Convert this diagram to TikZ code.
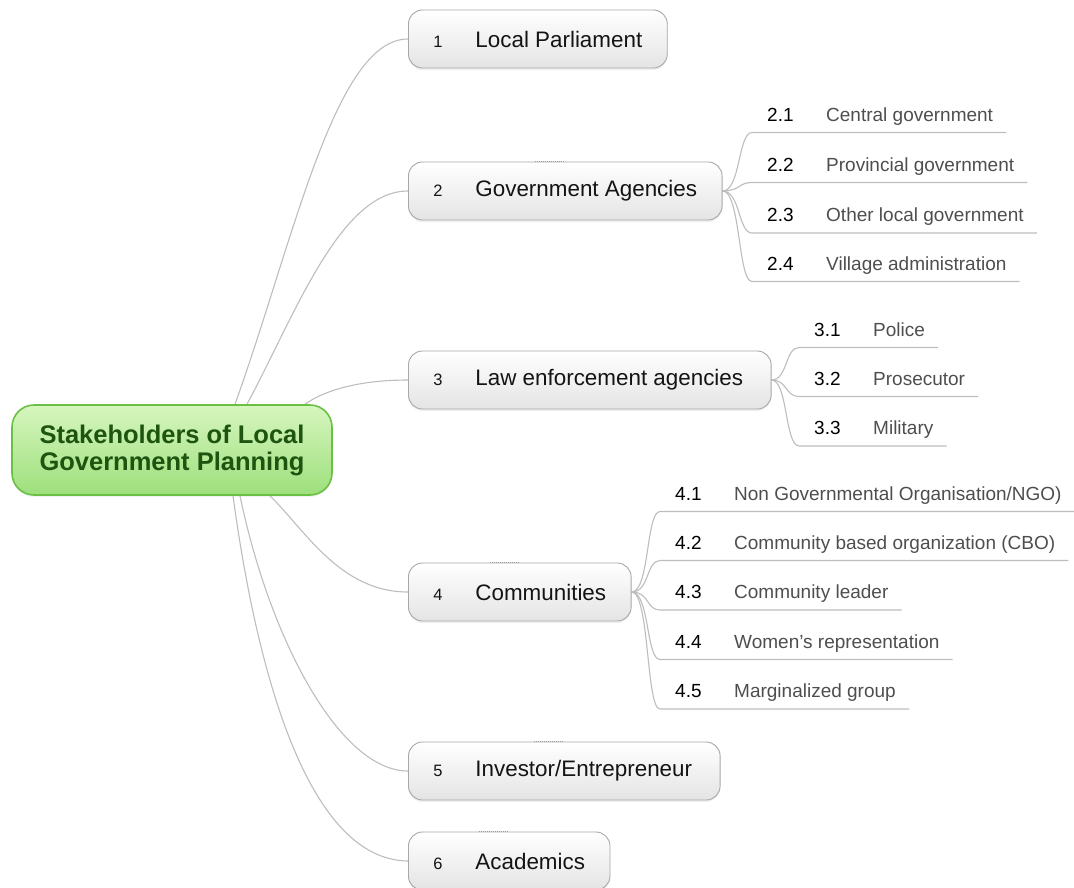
\documentclass[tikz,border=0pt]{standalone}
\usepackage{fontspec}
\setmainfont{Liberation Sans}
\usetikzlibrary{shadows,backgrounds}

\definecolor{linkgray}{HTML}{BDBDBD}
\definecolor{boxborder}{HTML}{A8A8A8}
\definecolor{boxbottom}{HTML}{E4E4E4}
\definecolor{subgray}{HTML}{4E4E4E}
\definecolor{rootborder}{HTML}{6ABF45}
\definecolor{roottop}{HTML}{D6F6BE}
\definecolor{rootbottom}{HTML}{9EDF7C}
\definecolor{roottext}{HTML}{1C5410}
\definecolor{handle}{HTML}{9C9C9C}

% number column + label inside a main topic box
\newcommand\topiclabel[2]{\makebox[42pt][l]{\fontsize{16.5}{18}\selectfont #1}#2}
% number column + label of an underlined sub topic
\newcommand\subentry[2]{\hspace*{15pt}\makebox[59pt][l]{\color{black}#1}#2\hspace*{13pt}}

\begin{document}
\begin{tikzpicture}[x=1pt,y=1pt,
  link/.style={draw=linkgray, line width=1.1pt},
  topic/.style={draw=boxborder, line width=0.9pt, rounded corners=14pt,
    top color=white, bottom color=boxbottom, minimum height=58pt,
    inner xsep=25pt, inner ysep=0pt, anchor=west,
    font=\fontsize{22.4}{26}\selectfont, text=black!92,
    drop shadow={opacity=0.12, shadow xshift=0pt, shadow yshift=-2pt}},
  subtopic/.style={inner sep=0pt, anchor=south west, text height=15pt,
    text depth=11pt, font=\fontsize{19}{22}\selectfont, text=subgray},
  rootstyle/.style={draw=rootborder, line width=1.6pt, rounded corners=22pt,
    top color=roottop, bottom color=rootbottom, minimum width=320pt,
    minimum height=90pt, align=center, text=roottext,
    font=\bfseries\fontsize{25.5}{27}\selectfont,
    drop shadow={opacity=0.10, shadow xshift=0pt, shadow yshift=-2pt}},
  handlemark/.style={draw=handle, line width=1pt, densely dotted}
]
\useasboundingbox (0,0) rectangle (1074,-887);

% central topic
\node[rootstyle] (root) at (172,-450) {Stakeholders of Local\\Government Planning};

% main topics
\node[topic] (b1) at (408,-39)  {\topiclabel{1}{Local Parliament}};
\node[topic] (b2) at (408,-191) {\topiclabel{2}{Government Agencies}};
\node[topic] (b3) at (408,-380) {\topiclabel{3}{Law enforcement agencies}\hspace*{3pt}};
\node[topic] (b4) at (408,-592) {\topiclabel{4}{Communities}};
\node[topic] (b5) at (408,-771) {\topiclabel{5}{Investor/Entrepreneur}\hspace*{3pt}};
\node[topic] (b6) at (408,-861) {\topiclabel{6}{Academics}};

% sub topics of 2
\node[subtopic] (s21) at (752,-132.5) {\subentry{2.1}{Central government}};
\node[subtopic] (s22) at (752,-182.5) {\subentry{2.2}{Provincial government}};
\node[subtopic] (s23) at (752,-233)   {\subentry{2.3}{Other local government}};
\node[subtopic] (s24) at (752,-281.5) {\subentry{2.4}{Village administration}};

% sub topics of 3
\node[subtopic] (s31) at (799,-347.5) {\subentry{3.1}{Police}};
\node[subtopic] (s32) at (799,-396.5) {\subentry{3.2}{Prosecutor}};
\node[subtopic] (s33) at (799,-446)   {\subentry{3.3}{Military}};

% sub topics of 4
\node[subtopic] (s41) at (660,-511.5) {\subentry{4.1}{Non Governmental Organisation/NGO)}};
\node[subtopic] (s42) at (660,-560.5) {\subentry{4.2}{Community based organization (CBO)}};
\node[subtopic] (s43) at (660,-610)   {\subentry{4.3}{Community leader}};
\node[subtopic] (s44) at (660,-659.5) {\subentry{4.4}{Women's representation}};
\node[subtopic] (s45) at (660,-709)   {\subentry{4.5}{Marginalized group}};

% collapse handles on the topic boxes
\foreach \b in {b2,b4,b5,b6}
  \draw[handlemark] ([xshift=-30pt]\b.north) -- (\b.north);

\begin{scope}[on background layer]
  % branches from the central topic
  \draw[link] ([xshift=63pt]root.north) .. controls (294,-240) and (335,-39) .. (b1.west);
  \draw[link] ([xshift=75pt]root.north) .. controls (295,-315) and (340,-191) .. (b2.west);
  \draw[link] ([xshift=133pt]root.north) .. controls (325,-390) and (360,-380) .. (b3.west);
  \draw[link] ([xshift=98pt]root.south) .. controls (305,-530) and (340,-592) .. (b4.west);
  \draw[link] ([xshift=68pt]root.south) .. controls (270,-640) and (340,-771) .. (b5.west);
  \draw[link] ([xshift=61pt]root.south) .. controls (258,-680) and (310,-860) .. (b6.west);

  % branches to the underlined sub topics
  \foreach \s in {s21,s22,s23,s24}
    \draw[link] (b2.east) .. controls +(18,0) and +(-14,0) .. (\s.south west) -- (\s.south east);
  \foreach \s in {s31,s32,s33}
    \draw[link] (b3.east) .. controls +(16,0) and +(-14,0) .. (\s.south west) -- (\s.south east);
  \foreach \s in {s41,s42,s43,s44,s45}
    \draw[link] (b4.east) .. controls +(18,0) and +(-14,0) .. (\s.south west) -- (\s.south east);
\end{scope}
\end{tikzpicture}
\end{document}
